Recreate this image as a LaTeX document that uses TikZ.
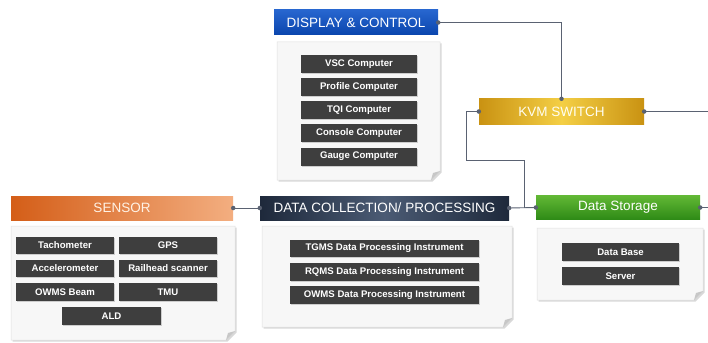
\documentclass[tikz,border=0pt]{standalone}
\usepackage{fontspec}
\setmainfont{Liberation Sans}
\usetikzlibrary{shadows}
\definecolor{lineclr}{HTML}{5A6272}
\definecolor{itemgray}{HTML}{3E3E3E}
\definecolor{panelfill}{HTML}{F7F7F7}
\definecolor{dispA}{HTML}{2766CF}
\definecolor{dispB}{HTML}{0A45AD}
\definecolor{kvmA}{HTML}{C99212}
\definecolor{kvmB}{HTML}{F4CF45}
\definecolor{senA}{HTML}{D45E18}
\definecolor{senB}{HTML}{F3AE80}
\definecolor{dcA}{HTML}{1E293B}
\definecolor{dcB}{HTML}{4B5B74}
\definecolor{dsA}{HTML}{62B835}
\definecolor{dsB}{HTML}{2E8A16}
\tikzset{
  hdr/.style={minimum height=25pt, inner sep=0pt, text=white, font=\fontsize{13.5}{14}\selectfont},
  itembox/.style={fill=itemgray, text=white, font=\bfseries\fontsize{9.6}{10}\selectfont, inner sep=0pt, minimum height=18pt,
    drop shadow={opacity=0.35, shadow xshift=1pt, shadow yshift=-1pt}},
  conn/.style={draw=lineclr, line width=0.9pt},
  dot/.style={circle, fill=lineclr, inner sep=0pt, minimum size=4.5pt},
  panel/.style={fill=panelfill, draw=black!12, line width=0.5pt,
    drop shadow={opacity=0.3, shadow xshift=1.5pt, shadow yshift=-1.5pt}},
}
\newcommand\mypanel[4]{%
  \path[panel] (#1,#2) -- (#3,#2) -- (#3,{#4-9}) -- ({#3-9},#4) -- (#1,#4) -- cycle;
  \fill[black!22] ({#3-9},#4) -- (#3,{#4-9}) -- ({#3-7},{#4-7}) -- cycle;
}
\begin{document}
\begin{tikzpicture}[x=1pt,y=-1pt]
\useasboundingbox[fill=white] (0,0) rectangle (708,342);

% panels
\mypanel{277}{42}{440}{180}
\mypanel{11}{226}{235}{340}
\mypanel{262}{226}{512}{327}
\mypanel{537}{228}{703}{300}

% headers
\node[hdr, minimum width=164pt, top color=dispA, bottom color=dispB] (disp) at (356,22.5) {DISPLAY \& CONTROL};
\node[hdr, minimum width=165pt, left color=kvmA, right color=kvmA, middle color=kvmB, text=white!95!yellow] (kvm) at (561.5,111.5) {KVM SWITCH};
\node[hdr, minimum width=222pt, minimum height=24pt, left color=senA, right color=senB, text=white!90!orange] (sensor) at (122,208) {SENSOR};
\node[hdr, minimum width=249pt, minimum height=24pt, left color=dcA, right color=dcA, middle color=dcB] (dc) at (384.5,208) {DATA COLLECTION/ PROCESSING};
\node[hdr, minimum width=164pt, minimum height=24pt, top color=dsA, bottom color=dsB] (ds) at (618,207.5) {Data Storage};

% display items
\node[itembox, minimum width=116pt] (vsc) at (359,64) {VSC Computer};
\node[itembox, minimum width=116pt] (prof) at (359,87) {Profile Computer};
\node[itembox, minimum width=116pt] (tqi) at (359,110) {TQI Computer};
\node[itembox, minimum width=116pt] (cons) at (359,133) {Console Computer};
\node[itembox, minimum width=116pt] (gauge) at (359,156.5) {Gauge Computer};

% sensor items
\node[itembox, minimum width=98pt, minimum height=17.5pt] (tach) at (65,245.5) {Tachometer};
\node[itembox, minimum width=98pt, minimum height=17.5pt] (gps) at (168,245.5) {GPS};
\node[itembox, minimum width=98pt, minimum height=17.5pt] (acc) at (65,268.5) {Accelerometer};
\node[itembox, minimum width=98pt, minimum height=17.5pt] (rail) at (168,268.5) {Railhead scanner};
\node[itembox, minimum width=98pt, minimum height=17.5pt] (owb) at (65,292) {OWMS Beam};
\node[itembox, minimum width=98pt, minimum height=17.5pt] (tmu) at (168,292) {TMU};
\node[itembox, minimum width=99pt, minimum height=17.5pt] (ald) at (111.5,316) {ALD};

% data collection items
\node[itembox, minimum width=189pt, minimum height=17.5pt] (tgms) at (384.5,248.5) {TGMS Data Processing Instrument};
\node[itembox, minimum width=189pt, minimum height=17.5pt] (rqms) at (384.5,272) {RQMS Data Processing Instrument};
\node[itembox, minimum width=189pt, minimum height=17.5pt] (owms) at (384.5,295) {OWMS Data Processing Instrument};

% data storage items
\node[itembox, minimum width=117pt, minimum height=18pt] (db) at (620.5,252) {Data Base};
\node[itembox, minimum width=117pt, minimum height=18pt] (srv) at (620.5,276) {Server};

% connectors
\coordinate (kvmout) at (708,111.5);
\coordinate (dsout) at (708,207.5);
\coordinate (bend) at (466,160);
\coordinate (j1) at (524,208);
\draw[conn] (disp.east) -| (kvm.north);
\draw[conn] (kvm.east) -- (kvmout);
\draw[conn] (kvm.west) -| (bend) -| (j1);
\draw[conn] (sensor.east) -- (dc.west);
\draw[conn] (dc.east) -- (ds.west);
\draw[conn] (ds.east) -- (dsout);

% dots
\foreach \p in {disp.east, kvm.north, kvm.east, kvm.west, sensor.east, dc.west, dc.east, ds.west, ds.east}
  \node[dot] at (\p) {};
\end{tikzpicture}
\end{document}
